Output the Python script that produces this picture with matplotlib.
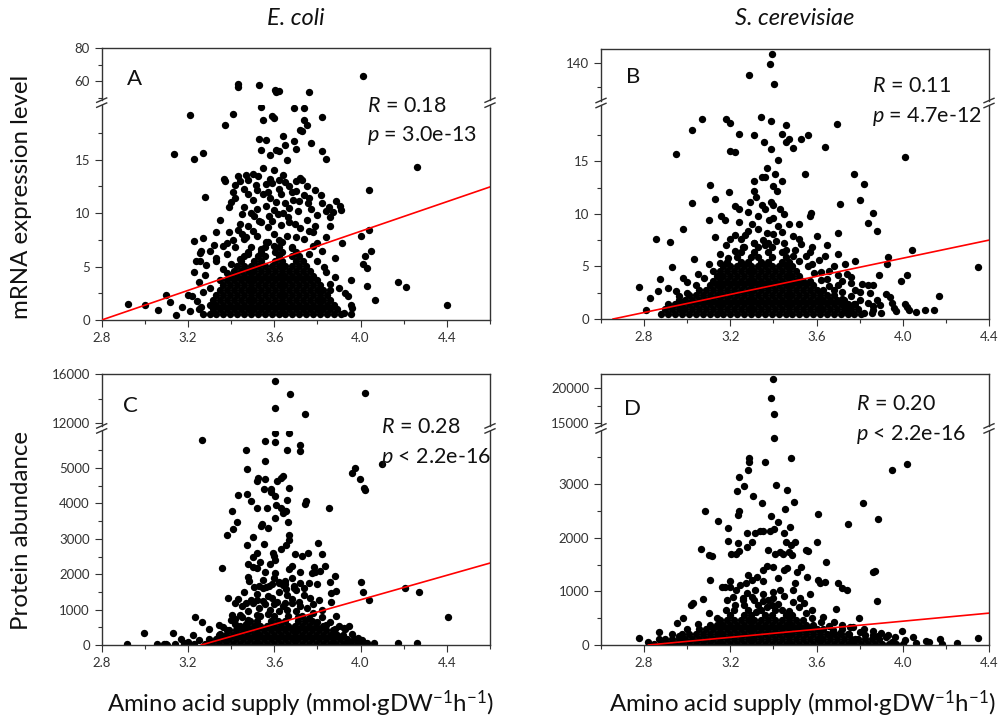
import matplotlib
matplotlib.use("Agg")
import matplotlib.pyplot as plt
from matplotlib.lines import Line2D
from matplotlib.ticker import MultipleLocator, FixedLocator, FormatStrFormatter

plt.rcParams['font.family'] = ['Lato', 'DejaVu Sans']
plt.rcParams['mathtext.fontset'] = 'custom'
plt.rcParams['mathtext.rm'] = 'Lato'
plt.rcParams['mathtext.it'] = 'Lato:italic'

W, H = 1002, 725

# ---------------- Panel A (E. coli, mRNA) ----------------
A_hi_pts = [(3.43, 58.1), (3.43, 56.6), (3.53, 57.7), (3.605, 54.9), (3.62, 54.3),
            (3.61, 53.7), (3.76, 53.3), (4.01, 63.4)]
A_lo_pts = [(3.21, 19.2), (3.41, 19.3), (3.37, 18.2), (3.55, 18.7), (3.59, 19.1), (3.60, 18.9),
            (3.69, 19.8), (3.74, 19.8), (3.54, 19.9), (3.74, 18.7), (3.75, 18.2), (3.72, 17.8),
            (3.73, 17.7), (3.82, 19.0), (3.53, 16.9), (3.56, 16.8), (3.64, 17.2), (3.65, 16.4),
            (3.69, 16.7), (3.77, 16.6), (3.54, 15.9), (3.61, 15.9), (3.62, 15.8), (3.58, 15.4),
            (3.66, 14.95), (3.70, 16.0), (3.82, 15.8), (3.84, 15.1), (3.135, 15.5), (3.23, 15.1),
            (3.27, 15.6), (3.55, 14.2), (3.60, 14.0), (4.26, 14.3), (3.365, 13.2), (3.37, 13.0),
            (3.43, 13.5), (3.47, 13.6), (3.50, 13.7), (3.525, 13.5), (3.44, 13.0), (3.48, 13.1),
            (3.515, 12.6), (3.56, 12.7), (3.59, 12.8), (3.62, 13.1), (3.65, 12.9), (3.67, 12.5),
            (3.72, 13.3), (3.73, 13.1), (3.70, 12.1), (3.74, 11.7), (3.75, 12.5), (3.79, 12.2),
            (3.815, 11.7), (4.04, 12.2), (3.28, 11.5), (3.41, 12.0), (3.42, 11.4), (3.48, 11.8),
            (3.50, 11.2), (3.55, 11.8), (3.58, 11.4), (3.61, 11.0), (3.63, 11.8), (3.65, 10.9),
            (3.685, 11.2), (3.715, 11.1), (3.755, 10.9), (3.82, 10.9), (3.855, 10.6), (3.885, 11.1),
            (3.905, 10.7), (3.91, 10.3), (3.84, 10.2), (3.87, 10.1), (3.39, 10.6), (3.45, 9.9),
            (3.49, 10.0), (3.505, 9.7), (3.54, 9.2), (3.575, 9.7), (3.59, 9.3), (3.615, 9.9),
            (3.64, 10.0), (3.665, 9.6), (3.695, 9.0), (3.79, 8.8), (3.78, 8.2), (3.86, 8.8),
            (4.00, 7.9), (4.04, 8.4), (3.33, 8.2), (3.39, 8.2), (3.43, 8.4), (3.47, 7.8),
            (3.27, 7.7), (3.23, 7.4), (3.915, 7.2), (3.36, 6.9), (3.26, 6.5), (3.30, 6.5),
            (4.05, 6.5), (3.235, 5.5), (3.255, 5.5), (3.23, 4.5), (3.285, 5.1), (3.33, 5.5),
            (4.02, 6.0), (4.01, 5.2), (4.03, 4.9), (3.955, 3.7), (4.175, 3.6), (4.21, 3.1),
            (4.03, 3.2), (4.065, 1.9), (4.40, 1.4), (2.92, 1.5), (3.00, 1.4), (3.06, 0.9),
            (3.10, 2.3), (3.115, 1.7), (3.145, 0.5), (3.17, 1.2), (3.20, 2.3), (3.21, 0.8),
            (3.22, 2.2), (3.93, 2.5), (3.94, 2.2), (3.955, 1.4), (3.96, 1.1), (3.955, 0.6),
            (3.925, 0.7), (3.30, 3.0), (3.28, 4.2), (3.33, 5.8), (3.38, 6.2), (3.36, 4.8),
            (3.84, 4.5), (3.86, 3.4), (3.88, 5.8), (3.82, 6.5), (3.80, 7.2), (3.41, 7.5),
            (3.45, 8.0), (3.50, 8.3), (3.60, 8.0), (3.70, 7.8), (3.76, 8.3), (3.25, 3.6),
            (3.27, 2.6), (3.24, 1.8), (3.26, 1.2), (3.90, 3.0), (3.88, 4.0), (3.254, 6.3),
            (3.38, 7.2), (3.42, 6.8), (3.46, 7.6), (3.52, 7.9), (3.56, 7.3), (3.62, 7.5),
            (3.66, 7.9), (3.74, 7.6), (3.78, 6.9), (3.44, 9.0), (3.48, 8.8), (3.53, 9.3),
            (3.57, 8.7), (3.63, 8.9), (3.67, 9.2), (3.72, 8.6), (3.75, 9.4), (3.80, 9.8),
            (3.46, 10.6), (3.52, 10.4), (3.56, 10.7), (3.60, 10.3), (3.67, 10.5), (3.71, 10.2),
            (3.77, 10.4), (3.42, 12.6), (3.46, 12.3), (3.52, 12.2), (3.57, 12.0), (3.62, 12.3),
            (3.68, 12.0), (3.76, 11.4), (3.40, 11.0), (3.35, 9.4), (3.32, 7.0), (3.84, 7.8),
            (3.86, 9.6), (3.58, 13.2), (3.64, 13.6), (3.70, 13.0), (3.54, 6.6), (3.60, 6.9),
            (3.68, 6.7), (3.76, 6.2), (3.48, 6.2), (3.44, 5.7), (3.40, 5.2), (3.38, 4.4),
            (3.80, 5.5), (3.83, 5.0), (3.35, 3.7), (3.86, 2.8)]
A_core_levels = [0.55, 1.0, 1.45, 1.9, 2.35, 2.8, 3.25, 3.7, 4.15, 4.6, 5.05, 5.5, 5.95, 6.4, 6.85, 7.3]
A_core_x = [
    [3.268, 3.300, 3.332, 3.364, 3.396, 3.428, 3.460, 3.492, 3.524, 3.556, 3.588, 3.620, 3.652, 3.684, 3.716, 3.748, 3.780, 3.812, 3.844, 3.876, 3.908],
    [3.252, 3.316, 3.348, 3.380, 3.412, 3.444, 3.476, 3.508, 3.540, 3.572, 3.604, 3.636, 3.668, 3.700, 3.732, 3.764, 3.796, 3.828, 3.860, 3.892],
    [3.300, 3.332, 3.364, 3.396, 3.428, 3.460, 3.492, 3.524, 3.556, 3.588, 3.620, 3.652, 3.684, 3.716, 3.748, 3.780, 3.812, 3.844, 3.876],
    [3.316, 3.348, 3.380, 3.412, 3.444, 3.476, 3.508, 3.540, 3.572, 3.604, 3.636, 3.668, 3.700, 3.732, 3.764, 3.796, 3.828, 3.860],
    [3.332, 3.364, 3.396, 3.428, 3.460, 3.492, 3.524, 3.556, 3.588, 3.620, 3.652, 3.684, 3.716, 3.748, 3.780, 3.812, 3.844],
    [3.348, 3.380, 3.412, 3.444, 3.476, 3.508, 3.540, 3.572, 3.604, 3.636, 3.668, 3.700, 3.732, 3.764, 3.796, 3.828],
    [3.364, 3.396, 3.428, 3.460, 3.492, 3.524, 3.556, 3.588, 3.620, 3.652, 3.684, 3.716, 3.748, 3.780, 3.812],
    [3.380, 3.412, 3.444, 3.476, 3.508, 3.540, 3.572, 3.604, 3.636, 3.668, 3.700, 3.732, 3.764, 3.796],
    [3.396, 3.428, 3.460, 3.492, 3.524, 3.556, 3.588, 3.620, 3.652, 3.684, 3.716, 3.748, 3.780],
    [3.412, 3.444, 3.476, 3.508, 3.540, 3.572, 3.604, 3.636, 3.668, 3.700, 3.732, 3.764],
    [3.428, 3.460, 3.492, 3.524, 3.556, 3.588, 3.620, 3.652, 3.684, 3.716, 3.748],
    [3.444, 3.508, 3.540, 3.604, 3.636, 3.700, 3.732],
    [3.460, 3.524, 3.556, 3.620, 3.684, 3.716],
    [3.476, 3.540, 3.604, 3.636, 3.700],
    [3.492, 3.556, 3.620, 3.684],
    [3.572, 3.636],
]
A_fit_x = [2.8, 4.6]
A_fit_y = [0.0, 12.45]

# ---------------- Panel B (S. cerevisiae, mRNA) ----------------
B_hi_pts = [(3.394, 143.6), (3.383, 139.6), (3.287, 134.9), (3.403, 131.4)]
B_lo_pts = [(3.07, 19.0), (3.18, 19.0), (3.20, 18.6), (3.34, 19.2), (3.39, 18.8), (3.46, 18.4),
            (3.695, 18.5), (3.02, 18.0), (3.24, 17.6), (3.31, 17.5), (3.44, 17.6), (3.46, 16.8),
            (3.47, 17.1), (3.49, 16.3), (3.53, 17.1), (3.56, 17.5), (3.355, 16.8), (3.39, 16.2),
            (3.20, 16.0), (3.22, 15.9), (3.64, 16.4), (2.95, 15.7), (4.01, 15.4), (3.42, 15.1),
            (3.37, 14.4), (3.345, 13.5), (3.36, 13.5), (3.31, 13.1), (3.405, 13.8), (3.44, 13.1),
            (3.40, 12.6), (3.415, 12.2), (3.545, 13.8), (3.775, 13.8), (3.82, 12.8), (3.105, 12.7),
            (3.195, 12.1), (3.13, 11.4), (3.02, 11.0), (3.31, 12.2), (3.29, 11.1), (3.32, 11.6),
            (3.345, 10.8), (3.39, 11.1), (3.40, 10.8), (3.22, 10.7), (3.24, 10.5), (3.43, 10.5),
            (3.71, 10.9), (3.80, 11.3), (3.86, 10.1), (3.575, 10.1), (3.57, 9.8), (3.155, 9.8),
            (3.175, 9.4), (3.10, 9.4), (2.98, 8.6), (3.88, 8.4), (3.84, 9.1), (3.70, 8.2),
            (2.855, 7.6), (2.92, 7.3), (2.93, 4.9), (3.03, 5.7), (2.98, 3.9), (2.875, 3.8),
            (2.775, 3.0), (2.81, 0.9), (2.825, 2.0), (2.865, 2.7), (2.91, 2.9), (3.93, 5.9),
            (3.925, 5.2), (4.045, 6.6), (3.89, 4.2), (4.02, 4.2), (3.99, 3.6), (3.94, 2.1),
            (4.17, 2.2), (4.35, 4.9), (4.01, 1.4), (4.03, 0.9), (4.105, 0.9), (4.145, 0.9),
            (3.96, 1.0), (3.895, 1.3), (3.86, 1.2), (3.855, 0.6), (3.78, 5.5), (3.84, 3.2),
            (3.86, 3.2), (3.05, 4.3), (3.10, 5.2), (3.00, 3.5), (2.95, 2.7), (3.15, 6.2),
            (3.18, 7.0), (3.25, 7.6), (3.28, 8.4), (3.35, 7.5), (3.40, 8.1), (3.45, 7.2),
            (3.50, 6.6), (3.55, 6.0), (3.58, 5.2), (3.62, 4.5), (3.65, 3.8), (3.70, 3.2),
            (3.72, 2.6), (3.76, 2.2), (3.80, 1.8), (3.84, 1.5), (3.82, 0.6), (3.86, 0.9),
            (3.90, 0.6), (3.47, 9.0), (3.38, 9.4), (3.30, 9.0), (3.22, 8.0), (3.42, 8.8),
            (3.52, 7.6), (3.58, 6.8), (3.64, 6.0), (3.68, 5.0), (3.74, 4.3), (3.74, 1.2),
            (3.78, 2.8), (3.81, 3.3), (3.85, 2.5), (3.88, 1.8), (3.92, 2.4), (3.95, 1.5),
            (3.97, 0.8), (4.02, 1.1), (4.06, 0.7), (3.72, 3.6), (3.76, 4.0),
            (3.12, 4.6), (3.15, 5.3), (3.19, 5.8), (3.22, 6.5), (3.26, 6.8), (3.31, 7.2),
            (3.36, 7.0), (3.41, 7.4), (3.46, 6.6), (3.49, 6.0), (3.52, 5.5), (3.56, 5.0),
            (3.59, 4.4), (3.62, 3.7), (3.66, 3.1), (3.20, 7.6), (3.27, 8.0), (3.33, 8.6),
            (3.37, 8.2), (3.44, 8.3), (3.49, 7.9), (3.53, 7.1), (3.57, 6.4), (3.61, 5.6),
            (3.66, 4.6), (3.70, 4.2), (3.08, 3.9), (3.04, 3.2), (3.00, 2.5), (2.96, 2.2),
            (3.13, 7.8), (3.24, 9.2), (3.33, 9.8), (3.40, 9.6), (3.45, 10.0), (3.36, 10.5),
            (3.28, 10.2), (3.52, 9.0), (3.60, 7.9), (3.65, 7.0), (3.70, 6.2), (3.73, 5.2),
            (3.76, 3.4), (3.80, 2.6), (3.68, 2.8), (3.72, 1.9), (3.78, 1.4), (3.74, 0.7)]
B_core_levels = [0.5, 0.95, 1.4, 1.85, 2.3, 2.75, 3.2, 3.65, 4.1, 4.55, 5.0, 5.45, 5.9, 6.35, 6.8, 7.25]
B_core_x = [
    [2.880, 2.912, 2.944, 2.976, 3.008, 3.040, 3.072, 3.104, 3.136, 3.168, 3.200, 3.232, 3.264, 3.296, 3.328, 3.360, 3.392, 3.424, 3.456, 3.488, 3.520, 3.552, 3.584, 3.616, 3.648, 3.680, 3.712, 3.744, 3.776, 3.808],
    [2.896, 2.928, 2.960, 2.992, 3.024, 3.056, 3.088, 3.120, 3.152, 3.184, 3.216, 3.248, 3.280, 3.312, 3.344, 3.376, 3.408, 3.440, 3.472, 3.504, 3.536, 3.568, 3.600, 3.632, 3.664, 3.696, 3.728, 3.760, 3.792],
    [2.912, 2.944, 2.976, 3.008, 3.040, 3.072, 3.104, 3.136, 3.168, 3.200, 3.232, 3.264, 3.296, 3.328, 3.360, 3.392, 3.424, 3.456, 3.488, 3.520, 3.552, 3.584, 3.616, 3.648, 3.680, 3.712, 3.744, 3.776],
    [2.960, 2.992, 3.024, 3.056, 3.088, 3.120, 3.152, 3.184, 3.216, 3.248, 3.280, 3.312, 3.344, 3.376, 3.408, 3.440, 3.472, 3.504, 3.536, 3.568, 3.600, 3.632, 3.664, 3.696, 3.728],
    [3.008, 3.040, 3.072, 3.104, 3.136, 3.168, 3.200, 3.232, 3.264, 3.296, 3.328, 3.360, 3.392, 3.424, 3.456, 3.488, 3.520, 3.552, 3.584, 3.616, 3.648, 3.680],
    [3.056, 3.088, 3.120, 3.152, 3.184, 3.216, 3.248, 3.280, 3.312, 3.344, 3.376, 3.408, 3.440, 3.472, 3.504, 3.536, 3.568, 3.600, 3.632],
    [3.104, 3.136, 3.168, 3.200, 3.232, 3.264, 3.296, 3.328, 3.360, 3.392, 3.424, 3.456, 3.488, 3.520, 3.552, 3.584],
    [3.120, 3.152, 3.184, 3.216, 3.248, 3.280, 3.312, 3.344, 3.376, 3.408, 3.440, 3.472, 3.504, 3.536, 3.568],
    [3.136, 3.168, 3.200, 3.232, 3.264, 3.296, 3.328, 3.360, 3.392, 3.424, 3.456, 3.488, 3.520],
    [3.152, 3.184, 3.216, 3.248, 3.280, 3.312, 3.344, 3.376, 3.408, 3.440, 3.472, 3.504],
    [3.168, 3.200, 3.232, 3.264, 3.296, 3.328, 3.360, 3.392, 3.424, 3.456, 3.488],
    [3.184, 3.248, 3.280, 3.344, 3.376, 3.440, 3.472],
    [3.232, 3.296, 3.328, 3.392, 3.456],
    [3.248, 3.312, 3.376, 3.440],
    [3.264, 3.328, 3.392],
    [3.312, 3.376],
]
B_fit_x = [2.656, 4.4]
B_fit_y = [0.0, 7.5]

# ---------------- Panel C (E. coli, protein) ----------------
C_hi_pts = [(3.602, 15472), (3.675, 14341), (3.602, 13262), (3.741, 12710), (4.022, 14500)]
C_lo_pts = [(3.602, 5990), (3.667, 5990), (3.266, 5803), (3.602, 5738), (3.559, 5757),
            (3.661, 5523), (3.721, 5663), (3.718, 5477), (3.471, 5505), (3.556, 5187),
            (3.475, 4973), (4.099, 5113), (3.975, 5010), (3.960, 4852), (3.998, 4684),
            (3.523, 4730), (3.520, 4637), (3.556, 4684), (3.630, 4730), (3.640, 4786),
            (3.614, 4637), (3.667, 4450), (3.586, 4404), (3.551, 4404), (4.014, 4450),
            (4.022, 4385), (3.433, 4245), (3.474, 4264), (3.494, 4059), (3.587, 4311),
            (3.602, 4217), (3.629, 3872), (3.649, 3797), (3.640, 3732), (3.654, 3779),
            (3.567, 3872), (3.521, 3872), (3.602, 3592), (3.664, 3471), (3.748, 4059),
            (3.744, 3984), (3.852, 3872), (3.405, 3779), (3.425, 3471), (3.408, 3284),
            (3.382, 3098), (3.502, 3051), (3.552, 2864), (3.543, 3424), (3.539, 3359),
            (3.474, 2827), (3.667, 2967), (3.654, 2827), (3.695, 2584), (3.729, 2519),
            (3.758, 2612), (3.803, 2892), (3.819, 2584), (3.593, 2612), (3.597, 2519),
            (3.605, 2407), (3.518, 2612), (3.479, 2286), (3.500, 2193), (3.522, 2174),
            (3.356, 2165), (3.533, 2333), (3.559, 2071), (3.605, 2025), (3.620, 1791),
            (3.648, 1819), (3.667, 2146), (3.683, 2239), (3.784, 2211), (3.775, 2025),
            (3.791, 2053), (3.814, 2099), (3.837, 2239), (3.883, 1959), (3.860, 1773),
            (3.886, 1539), (3.864, 1474), (3.690, 1679), (3.721, 1745), (3.763, 1745),
            (3.798, 1726), (3.479, 1913), (3.483, 1819), (3.505, 1633), (3.528, 1679),
            (3.546, 1614), (3.575, 1679), (3.590, 1726), (3.652, 1726), (3.654, 1586),
            (4.002, 1782), (4.010, 1493), (4.038, 1260), (4.207, 1614), (4.269, 1511),
            (4.405, 793), (3.386, 1334), (3.433, 1306), (3.467, 1194), (3.493, 1260),
            (3.521, 1278), (3.559, 1166), (3.590, 1334), (3.613, 1213), (3.652, 1194),
            (3.683, 1306), (3.714, 1213), (3.737, 1400), (3.767, 1334), (3.806, 1260),
            (3.864, 1213), (3.886, 812), (3.922, 494), (3.948, 541), (3.231, 793),
            (3.263, 653), (3.343, 560), (3.297, 439), (3.224, 280), (3.166, 159),
            (3.132, 345), (2.996, 345), (2.916, 20), (3.055, 28), (3.089, 28), (3.104, 10),
            (3.181, 47), (4.007, 140), (4.022, 65), (4.061, 65), (4.172, 47), (4.261, 65),
            (3.937, 93), (3.952, 47), (3.891, 280), (3.906, 233), (3.405, 840), (3.417, 746),
            (3.425, 485), (3.451, 793), (3.467, 606), (3.20, 80), (3.23, 30), (3.25, 150),
            (3.18, 20), (3.14, 30), (3.10, 20), (4.00, 30), (4.03, 60), (3.52, 1450),
            (3.57, 1380), (3.62, 1500), (3.66, 1420), (3.70, 1550), (3.55, 1850), (3.60, 1900),
            (3.64, 1700), (3.68, 1880), (3.72, 2050), (3.50, 2500), (3.58, 2300), (3.63, 2700),
            (3.67, 3100), (3.57, 3300), (3.61, 3950), (3.66, 4100), (3.53, 1050), (3.58, 1000),
            (3.64, 1100), (3.70, 950), (3.75, 1050), (3.78, 900), (3.82, 800), (3.86, 650),
            (3.48, 950), (3.44, 850), (3.40, 700), (3.36, 500), (3.90, 550), (3.93, 450),
            (3.45, 1100), (3.50, 1200), (3.55, 1250), (3.60, 1150), (3.68, 1200), (3.72, 1100),
            (3.78, 1150), (3.82, 1000), (3.48, 700), (3.52, 850), (3.57, 880), (3.62, 950),
            (3.66, 1000), (3.71, 800), (3.76, 750), (3.80, 650), (3.84, 560), (3.88, 450),
            (3.42, 580), (3.38, 420), (3.35, 300), (3.96, 300), (3.99, 200), (3.56, 1650),
            (3.62, 1750), (3.69, 1600), (3.74, 1600), (3.46, 1500), (3.42, 1200)]
C_core_levels = [30, 160, 290, 420, 550, 680, 810]
C_core_x = [
    [3.280, 3.312, 3.344, 3.376, 3.408, 3.440, 3.472, 3.504, 3.536, 3.568, 3.600, 3.632, 3.664, 3.696, 3.728, 3.760, 3.792, 3.824, 3.856, 3.888, 3.920, 3.952, 3.984],
    [3.296, 3.328, 3.360, 3.392, 3.424, 3.456, 3.488, 3.520, 3.552, 3.584, 3.616, 3.648, 3.680, 3.712, 3.744, 3.776, 3.808, 3.840, 3.872, 3.904, 3.936, 3.968],
    [3.344, 3.376, 3.408, 3.440, 3.472, 3.504, 3.536, 3.568, 3.600, 3.632, 3.664, 3.696, 3.728, 3.760, 3.792, 3.824, 3.856, 3.888, 3.920],
    [3.392, 3.424, 3.456, 3.488, 3.520, 3.552, 3.584, 3.616, 3.648, 3.680, 3.712, 3.744, 3.776, 3.808, 3.840, 3.872],
    [3.440, 3.472, 3.504, 3.536, 3.568, 3.600, 3.632, 3.664, 3.696, 3.728, 3.760, 3.792, 3.824],
    [3.488, 3.520, 3.584, 3.616, 3.648, 3.712, 3.744, 3.776],
    [3.536, 3.600, 3.664, 3.728],
]
C_fit_x = [3.261, 4.6]
C_fit_y = [0.0, 2316]

# ---------------- Panel D (S. cerevisiae, protein) ----------------
D_hi_pts = [(3.397, 21307), (3.387, 18649), (3.403, 16261)]
D_lo_pts = [(3.403, 3865), (3.288, 3485), (3.288, 3405), (3.361, 3411), (3.482, 3479),
            (3.281, 3255), (3.239, 3124), (3.949, 3255), (4.021, 3373), (3.265, 2956),
            (3.230, 2863), (3.304, 2770), (3.412, 2988), (3.465, 2894), (3.349, 2645),
            (3.496, 2658), (3.454, 2539), (3.817, 2645), (3.884, 2353), (3.748, 2259),
            (3.605, 2434), (3.242, 2490), (3.237, 2427), (3.083, 2490), (3.142, 2303),
            (3.188, 2178), (3.389, 2396), (3.420, 2284), (3.404, 2166), (3.477, 2191),
            (3.237, 1898), (3.188, 1942), (3.276, 1836), (3.301, 1917), (3.278, 2085),
            (3.313, 2085), (3.338, 2116), (3.353, 2129), (3.383, 2116), (3.449, 2085),
            (3.457, 1911), (3.480, 1867), (3.499, 1911), (3.604, 1911), (3.063, 1793),
            (3.101, 1680), (3.114, 1668), (3.203, 1699), (3.224, 1699), (3.239, 1761),
            (3.377, 1774), (3.407, 1699), (3.430, 1730), (3.443, 1693), (3.474, 1730),
            (3.485, 1680), (3.551, 1774), (3.562, 1755), (3.644, 1556), (3.864, 1357),
            (3.872, 1382), (3.879, 828), (3.740, 1027), (3.698, 1164), (3.716, 1058),
            (3.570, 946), (3.609, 1214), (3.617, 1151), (3.640, 1183), (3.691, 666),
            (3.797, 510), (3.755, 342), (3.106, 1214), (3.072, 859), (3.026, 778),
            (3.017, 747), (2.979, 498), (2.951, 417), (2.870, 249), (2.778, 137),
            (3.995, 261), (3.930, 187), (3.884, 174), (3.825, 187), (4.046, 156),
            (4.106, 81), (4.173, 112), (4.350, 124), (4.010, 93), (3.964, 156),
            (3.779, 106), (3.678, 280), (3.670, 218), (3.709, 230), (3.160, 1089),
            (3.173, 1077), (3.199, 1089), (3.227, 1027), (3.245, 1120), (3.273, 1151),
            (3.299, 1214), (3.322, 1276), (3.350, 1400), (3.369, 1475), (3.397, 1450),
            (3.449, 1400), (3.461, 1432), (3.508, 1369), (3.528, 1463), (3.555, 1276),
            (3.493, 1027), (3.523, 871), (3.431, 1027), (3.400, 871), (3.353, 828),
            (3.315, 1027), (3.279, 977), (3.261, 871), (3.214, 902), (3.183, 840),
            (4.06, 30), (4.12, 50), (4.18, 20), (4.25, 40), (3.95, 60), (3.92, 140),
            (3.86, 180), (3.80, 240), (3.75, 200), (3.72, 300), (3.66, 350), (3.62, 420),
            (3.58, 500), (3.55, 600), (3.52, 700), (2.82, 60), (2.87, 120), (2.93, 200),
            (2.96, 160), (3.14, 500), (3.18, 650), (3.22, 750), (3.26, 830), (3.30, 900),
            (3.35, 950), (3.40, 980), (3.45, 920), (3.49, 800), (3.54, 780), (3.58, 650),
            (3.63, 520), (3.68, 430), (3.72, 380), (3.77, 330), (3.82, 300), (3.86, 260),
            (3.90, 220), (3.05, 400), (3.00, 300), (3.10, 600), (3.20, 1200), (3.28, 1300),
            (3.35, 1200), (3.42, 1250), (3.50, 1150), (3.32, 620), (3.37, 700), (3.42, 760),
            (3.47, 640)]
D_core_levels = [20, 110, 200, 290, 380, 470, 560, 650, 740, 830]
D_core_x = [
    [2.848, 2.880, 2.912, 2.944, 2.976, 3.008, 3.040, 3.072, 3.104, 3.136, 3.168, 3.200, 3.232, 3.264, 3.296, 3.328, 3.360, 3.392, 3.424, 3.456, 3.488, 3.520, 3.552, 3.584, 3.616, 3.648, 3.680, 3.712, 3.744, 3.776, 3.808, 3.840, 3.872, 3.904, 3.936, 3.968, 4.000],
    [2.896, 2.928, 2.960, 2.992, 3.024, 3.056, 3.088, 3.120, 3.152, 3.184, 3.216, 3.248, 3.280, 3.312, 3.344, 3.376, 3.408, 3.440, 3.472, 3.504, 3.536, 3.568, 3.600, 3.632, 3.664, 3.696, 3.728, 3.760, 3.792, 3.824, 3.856, 3.888],
    [2.976, 3.008, 3.040, 3.072, 3.104, 3.136, 3.168, 3.200, 3.232, 3.264, 3.296, 3.328, 3.360, 3.392, 3.424, 3.456, 3.488, 3.520, 3.552, 3.584, 3.616, 3.648, 3.680, 3.712, 3.744],
    [3.056, 3.088, 3.120, 3.152, 3.184, 3.216, 3.248, 3.280, 3.312, 3.344, 3.376, 3.408, 3.440, 3.472, 3.504, 3.536, 3.568, 3.600, 3.632],
    [3.104, 3.136, 3.168, 3.200, 3.232, 3.264, 3.296, 3.328, 3.360, 3.392, 3.424, 3.456, 3.488, 3.520, 3.552, 3.584],
    [3.152, 3.184, 3.216, 3.248, 3.280, 3.312, 3.344, 3.376, 3.408, 3.440, 3.472, 3.504, 3.536],
    [3.200, 3.264, 3.296, 3.360, 3.392, 3.456, 3.488],
    [3.216, 3.280, 3.344, 3.408, 3.440],
    [3.264, 3.328, 3.392],
    [3.312, 3.376],
]
D_fit_x = [2.82, 4.4]
D_fit_y = [0.0, 594]

panel_letters = ['A', 'B', 'C', 'D']
stats_R = ['0.18', '0.11', '0.28', '0.20']
stats_p = ['= 3.0e-13', '= 4.7e-12', '< 2.2e-16', '< 2.2e-16']
col_titles = ['E. coli', 'S. cerevisiae']
row_labels = ['mRNA expression level', 'Protein abundance']
x_label = 'Amino acid supply (mmol\u00b7gDW$^{-1}$h$^{-1}$)'

SPINE = '#333333'
TXT = '#111111'
DOT_SIZE = 28
fig = plt.figure(figsize=(W / 100, H / 100), dpi=100)


def fx(px):
    return px / W


def fy(py):
    return 1 - py / H


def collect(pts, levels=None, rows=None):
    xs = [p[0] for p in pts]
    ys = [p[1] for p in pts]
    if levels is not None:
        for lvl, row in zip(levels, rows):
            xs += list(row)
            ys += [lvl] * len(row)
    return xs, ys


def make_panel(box, xlim, lo_lim, hi_lim, lo_major, lo_minor, hi_major, hi_minor,
               lo_data, hi_data, fit_x, fit_y):
    left, right, top, bottom = box
    brk = bottom - 0.8 * (bottom - top)
    g = 2.5
    ax_lo = fig.add_axes([fx(left), fy(bottom), (right - left) / W, (bottom - brk - g) / H])
    ax_hi = fig.add_axes([fx(left), fy(brk - g), (right - left) / W, (brk - g - top) / H])
    for ax in (ax_lo, ax_hi):
        ax.set_xlim(*xlim)
        for s in ax.spines.values():
            s.set_color(SPINE)
            s.set_linewidth(1.0)
        ax.tick_params(axis='both', which='both', direction='out', colors=SPINE,
                       labelcolor='#333333', labelsize=9.5, width=0.8, right=False, top=False)
        ax.tick_params(axis='both', which='major', length=5)
        ax.tick_params(axis='both', which='minor', length=3)
    ax_lo.spines['top'].set_visible(False)
    ax_hi.spines['bottom'].set_visible(False)
    ax_hi.tick_params(axis='x', which='both', bottom=False, labelbottom=False)

    ax_lo.set_ylim(*lo_lim)
    ax_hi.set_ylim(*hi_lim)
    ax_lo.xaxis.set_major_locator(MultipleLocator(0.4))
    ax_lo.xaxis.set_minor_locator(MultipleLocator(0.2))
    ax_lo.xaxis.set_major_formatter(FormatStrFormatter('%.1f'))
    ax_lo.yaxis.set_major_locator(FixedLocator(lo_major))
    ax_lo.yaxis.set_minor_locator(FixedLocator(lo_minor))
    ax_lo.yaxis.set_major_formatter(FormatStrFormatter('%d'))
    ax_hi.yaxis.set_major_locator(MultipleLocator(hi_major))
    ax_hi.yaxis.set_minor_locator(MultipleLocator(hi_minor))
    ax_hi.yaxis.set_major_formatter(FormatStrFormatter('%d'))

    ax_lo.scatter(lo_data[0], lo_data[1], s=DOT_SIZE, c='black', linewidths=0, zorder=2)
    ax_hi.scatter(hi_data[0], hi_data[1], s=DOT_SIZE, c='black', linewidths=0, zorder=2)
    ax_lo.plot(fit_x, fit_y, color='#ff0000', lw=1.2, zorder=3)

    # break marks on both vertical spines
    for xx in (left, right):
        for yy in (brk - g, brk + g):
            fig.add_artist(Line2D([fx(xx - 5), fx(xx + 5)], [fy(yy + 2.2), fy(yy - 2.2)],
                                  color=SPINE, lw=1.0, transform=fig.transFigure))
    return ax_lo, ax_hi


boxes = [(101.7, 490, 48.3, 320), (601, 989, 49, 319),
         (101.7, 490, 374.3, 645), (601, 989, 374.3, 645)]

make_panel(boxes[0], (2.8, 4.6), (0, 20.1), (48.6, 80),
           [0, 5, 10, 15], [2.5, 7.5, 12.5, 17.5], 20, 10,
           collect(A_lo_pts, A_core_levels, A_core_x), collect(A_hi_pts), A_fit_x, A_fit_y)
make_panel(boxes[1], (2.6, 4.4), (0, 20.3), (124.6, 145.5),
           [0, 5, 10, 15], [2.5, 7.5, 12.5, 17.5], 20, 10,
           collect(B_lo_pts, B_core_levels, B_core_x), collect(B_hi_pts), B_fit_x, B_fit_y)
make_panel(boxes[2], (2.8, 4.6), (0, 6050), (11750, 16000),
           [0, 1000, 2000, 3000, 4000, 5000], [500, 1500, 2500, 3500, 4500, 5500], 4000, 2000,
           collect(C_lo_pts, C_core_levels, C_core_x), collect(C_hi_pts), C_fit_x, C_fit_y)
make_panel(boxes[3], (2.6, 4.4), (0, 3990), (14600, 22000),
           [0, 1000, 2000, 3000], [500, 1500, 2500, 3500], 5000, 2500,
           collect(D_lo_pts, D_core_levels, D_core_x), collect(D_hi_pts), D_fit_x, D_fit_y)

# panel letters
letter_pos = [(126.7, 85), (626, 83.3), (123.3, 411.7), (624, 415)]
for (px, py), letter in zip(letter_pos, panel_letters):
    fig.text(fx(px), fy(py), letter, fontsize=16, ha='left', va='baseline', color=TXT)

# statistics
stat_pos = [(367, 111.7, 141), (872, 92.3, 122.3), (381, 432.7, 463.3), (856, 410, 440)]
for (px, pyr, pyp), r, p in zip(stat_pos, stats_R, stats_p):
    fig.text(fx(px), fy(pyr), '$\\mathit{R}$ = ' + r, fontsize=15.5, ha='left', va='baseline',
             color=TXT)
    fig.text(fx(px), fy(pyp), '$\\mathit{p}$ ' + p, fontsize=15.5, ha='left', va='baseline',
             color=TXT)

# column titles
for cx, t in zip((296, 795), col_titles):
    fig.text(fx(cx), fy(25), t, fontsize=17, style='italic', ha='center', va='baseline',
             color=TXT)

# row labels
for cy, t in zip((197, 530), row_labels):
    fig.text(fx(22), fy(cy), t, fontsize=17.3, rotation=90, ha='center', va='center',
             color=TXT)

# x labels
for cx in (300, 802):
    fig.text(fx(cx), fy(712), x_label, fontsize=17.3, ha='center', va='baseline', color=TXT)

fig.savefig('out.png', dpi=100)
